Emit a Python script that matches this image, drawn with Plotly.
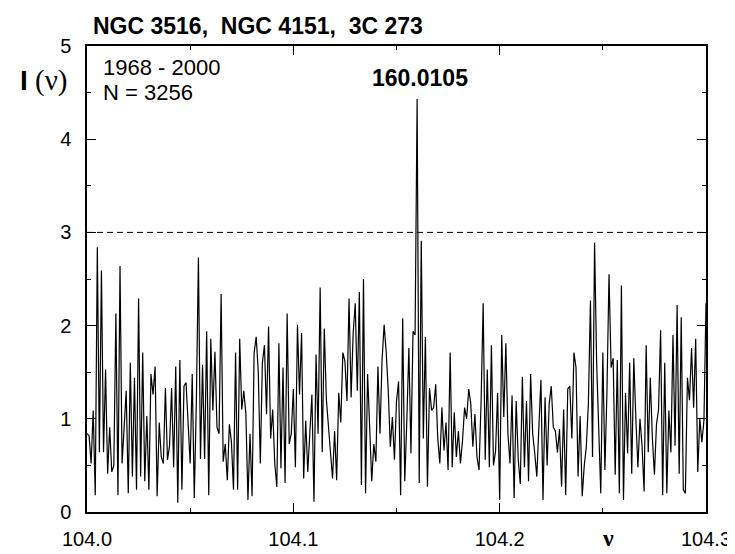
import numpy as np
import plotly.graph_objects as go

# frequency grid 104.000 .. 104.300 (step 0.001)
freq_start = 104.0
freq_end = 104.3
n_points = 301

power = [
    0.84, 0.82, 0.52, 1.09, 0.18, 2.84, 0.64, 2.59, 0.64, 1.53,
    0.41, 0.91, 0.43, 0.50, 2.13, 0.18, 2.64, 0.52, 0.91, 1.30,
    0.20, 1.60, 0.38, 1.44, 0.24, 2.29, 0.38, 1.71, 0.33, 1.03,
    0.24, 1.48, 1.26, 1.56, 0.17, 0.96, 0.59, 0.52, 1.33, 0.56,
    0.71, 1.33, 0.48, 1.56, 0.10, 1.63, 0.24, 1.35,
    1.39, 0.91, 0.52, 1.48, 0.15, 1.19, 2.73, 0.57, 1.58, 0.57,
    1.94, 0.18, 1.86, 1.09, 1.72, 0.91, 0.84, 2.34, 0.54, 0.73,
    0.34, 0.94, 0.75, 0.24, 1.71, 0.24, 1.86, 1.10, 1.30, 1.05,
    0.13, 0.84, 0.17, 1.71, 1.88, 1.51, 0.52, 1.60, 1.79, 1.05,
    1.99, 0.79, 1.10, 0.52, 0.27, 1.81, 0.47, 1.55, 0.31, 2.13,
    0.73, 0.84, 1.32, 0.48, 2.01, 1.26, 1.92, 0.36, 0.98, 0.43,
    0.79, 1.26, 0.11, 1.69, 0.84, 2.41, 0.64, 1.97, 1.21, 0.91,
    0.64, 0.36, 0.87, 0.34, 1.28, 0.96, 1.71, 1.62, 1.19, 2.29,
    1.23, 1.92, 2.24, 1.30, 2.36, 0.29, 2.50, 0.20, 1.48, 0.87,
    0.33, 0.73, 0.54, 1.56, 0.84, 1.63, 2.01, 1.72, 1.30, 0.70,
    1.02, 0.56, 1.19, 1.40, 0.18, 2.08, 0.33, 0.98, 1.76, 0.63,
    1.94, 1.90, 4.43, 0.31, 2.91, 0.79, 1.88, 0.27, 1.33, 1.09,
    1.12, 1.37, 0.79, 0.52, 1.12, 0.66, 0.96, 0.45, 1.71, 0.48,
    1.07, 0.59, 0.87, 0.52, 0.77, 1.12, 1.00, 1.32, 1.16, 0.70,
    1.05, 0.59, 0.45, 1.19, 2.24, 0.56, 1.53, 0.48, 1.79,
    0.50, 0.65, 1.28, 0.13, 1.90, 1.02, 1.81, 0.84, 0.52, 1.25,
    0.15, 1.19, 0.56, 0.30, 1.45, 0.48, 1.19, 0.33, 1.48, 0.84,
    0.63, 0.38, 0.91, 1.42, 0.13, 1.23, 0.50, 1.16, 1.35, 0.91,
    0.87, 0.64, 0.89, 0.27, 1.10, 0.18, 1.32, 1.35, 0.79, 1.71,
    1.55, 0.38, 1.03, 0.17, 0.50, 0.70, 1.17, 2.27, 0.59, 2.89,
    1.60,
    0.90, 0.20, 1.71, 0.45, 1.30, 2.55, 1.55, 1.65, 0.40, 1.63,
    0.20, 2.43, 0.13, 1.28, 0.63, 1.60, 0.41, 1.65, 1.00, 0.48,
    1.00, 0.71, 0.22, 1.79, 0.64, 1.44, 0.80, 0.40, 0.94, 1.10,
    1.95, 0.18, 1.60, 0.20, 1.09, 0.64, 1.90, 0.71, 2.22, 0.41,
    2.09, 0.24, 0.20, 1.44, 1.20, 1.76, 1.12, 1.86, 0.43, 1.00,
    0.75, 0.98, 2.24,
]

x_ticks = [104.0, 104.1, 104.2, 104.3]
x_tick_labels = ["104.0", "104.1", "104.2", "104.3"]
y_ticks = [0, 1, 2, 3, 4, 5]
threshold = 3.0

title_text = "<b>NGC 3516,  NGC 4151,  3C 273</b>"
info_line1 = "1968 - 2000"
info_line2 = "N = 3256"
peak_label = "<b>160.0105</b>"

freq = np.linspace(freq_start, freq_end, n_points)
n = min(len(freq), len(power))

fig = go.Figure()
fig.add_trace(go.Scatter(
    x=freq[:n], y=power[:n], mode="lines",
    line=dict(color="black", width=1.2), showlegend=False, hoverinfo="skip",
))

fig.add_shape(type="line", xref="x", yref="y", x0=freq_start, x1=freq_end,
              y0=threshold, y1=threshold,
              line=dict(color="black", width=1, dash="6px,4px"))

sans = "Liberation Sans, Arial, sans-serif"
serif = "Liberation Serif, Times New Roman, serif"

axis_common = dict(
    showgrid=False, zeroline=False, showline=True, linecolor="black",
    linewidth=1.5, mirror="allticks", ticks="inside", ticklen=9,
    tickwidth=1, tickcolor="black",
    tickfont=dict(family=sans, size=20, color="black"),
)

fig.update_xaxes(range=[freq_start, freq_end], tickvals=x_ticks,
                 ticktext=x_tick_labels,
                 minor=dict(dtick=0.05, ticks="inside", ticklen=4,
                            tickcolor="black", tickwidth=1),
                 ticklabelstandoff=8,
                 **axis_common)
fig.update_yaxes(range=[0, 5], tickvals=y_ticks,
                 minor=dict(dtick=0.5, ticks="inside", ticklen=4,
                            tickcolor="black", tickwidth=1),
                 ticklabelstandoff=10,
                 **axis_common)

annotations = [
    dict(text=title_text, x=0.006, y=1.0425, xanchor="left", yanchor="middle",
         font=dict(family=sans, size=23, color="black")),
    dict(text=info_line1, x=0.022, y=0.953, xanchor="left", yanchor="middle",
         font=dict(family=sans, size=22, color="black")),
    dict(text=info_line2, x=0.022, y=0.900, xanchor="left", yanchor="middle",
         font=dict(family=sans, size=22, color="black")),
    dict(text=peak_label, x=0.538, y=0.932, xanchor="center", yanchor="middle",
         font=dict(family=sans, size=23, color="black")),
    dict(text="<b>I</b>", x=-0.102, y=0.926, xanchor="center", yanchor="middle",
         font=dict(family=sans, size=28, color="black")),
    dict(text="(ν)", x=-0.058, y=0.926, xanchor="center", yanchor="middle",
         font=dict(family=serif, size=29, color="black")),
    dict(text="<b>ν</b>", x=0.842, y=-0.089, xanchor="center", yanchor="bottom",
         font=dict(family=serif, size=24, color="black")),
]
for a in annotations:
    a.update(xref="paper", yref="paper", showarrow=False)
fig.update_layout(annotations=annotations)

fig.update_layout(
    width=735, height=554,
    margin=dict(l=79, r=28, t=38, b=45),
    plot_bgcolor="white", paper_bgcolor="white",
)

fig.write_html("out.html")
